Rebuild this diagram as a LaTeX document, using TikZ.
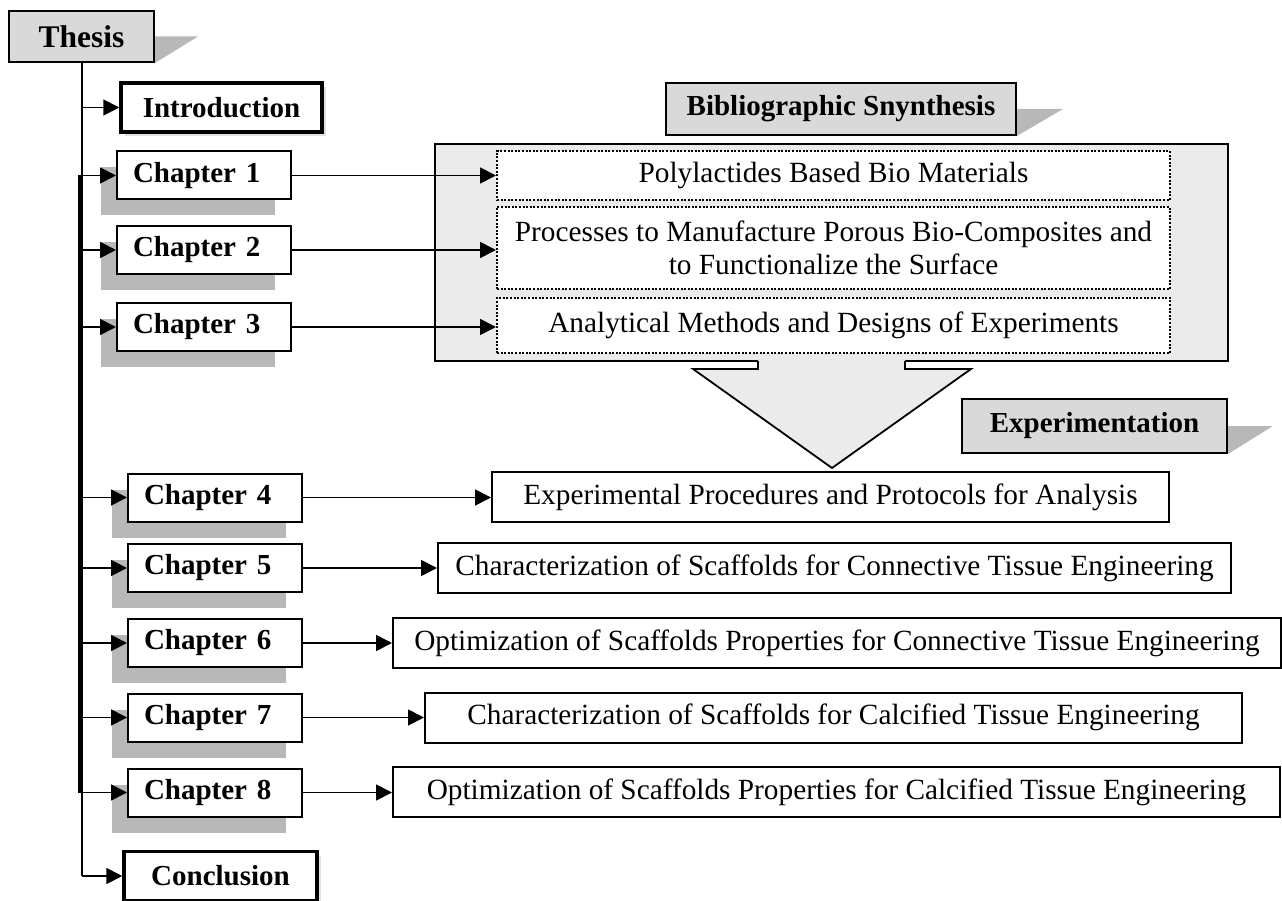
\documentclass[tikz,border=0pt]{standalone}
\usepackage{fontspec}
\setmainfont{Liberation Serif}
\usetikzlibrary{arrows.meta,shadows}

\begin{document}
\begin{tikzpicture}[x=1pt,y=-1pt,
  bigfont/.style={font=\fontsize{29}{33}\selectfont\bfseries},
  txtfont/.style={font=\fontsize{29.3}{33.5}\selectfont},
  heading/.style={draw,line width=2pt,fill=black!15,bigfont,inner sep=0pt},
  chap/.style={draw,line width=2pt,fill=white,bigfont,text width=142pt,align=left,
    inner xsep=16pt,inner ysep=0pt,minimum height=48pt,
    drop shadow={shadow xshift=-16pt,shadow yshift=-16pt,fill=black!28,opacity=1}},
  endbox/.style={draw,line width=3.5pt,fill=white,bigfont,inner sep=0pt,minimum height=49pt,
    drop shadow={shadow xshift=4pt,shadow yshift=-4pt,fill=black!12,opacity=1}},
  topic/.style={draw,line width=2pt,dash pattern=on 2pt off 1.6pt,fill=white,txtfont,
    align=center,minimum width=673pt,inner sep=0pt},
  work/.style={draw,line width=2pt,fill=white,txtfont,inner sep=0pt,minimum height=50pt},
  arr/.style={-{Triangle[length=16pt,width=16pt]},line width=1.8pt},
  trunk/.style={line width=2pt}]
\useasboundingbox (0,0) rectangle (1282,901);

% bibliographic part
\node[draw,line width=2pt,fill=black!8,minimum width=793pt,minimum height=217pt] (synth) at (831.5,252.5) {};
\fill[black!8] (758,357) -- (758,369) -- (693,369) -- (832,468) -- (971,369) -- (905,369) -- (905,357) -- cycle;
\draw[line width=1.8pt] (758,361) -- (758,369) -- (693,369) -- (832,468) -- (971,369) -- (905,369) -- (905,361);
\node[topic,minimum height=49pt] (poly) at (833.5,175.5) {Polylactides Based Bio Materials};
\node[topic,minimum height=82pt] (proc) at (833.5,248) {Processes to Manufacture Porous Bio-Composites and\\to Functionalize the Surface};
\node[topic,minimum height=55pt] (anal) at (833.5,325.5) {Analytical Methods and Designs of Experiments};

% headings
\node[heading,minimum width=145pt,minimum height=51pt,font=\fontsize{31.5}{35}\selectfont\bfseries] (thesis) at (81.5,36.5) {Thesis};
\node[heading,minimum width=350pt,minimum height=52pt] (bib) at (841,109) {Bibliographic Snynthesis};
\node[heading,minimum width=265pt,minimum height=54pt] (exper) at (1094.5,426) {Experimentation};
\fill[black!28] (thesis.east) -- ++(43,0) -- (thesis.south east) -- cycle;
\fill[black!28] (bib.east) -- ++(46,0) -- (bib.south east) -- cycle;
\fill[black!28] (exper.east) -- ++(45,0) -- (exper.south east) -- cycle;

% chapters
\node[endbox,minimum width=201pt] (intro) at (221.5,107.5) {Introduction};
\node[chap] (ch1) at (204,175.5) {Chapter 1};
\node[chap] (ch2) at (204,250) {Chapter 2};
\node[chap] (ch3) at (204,327) {Chapter 3};
\node[chap] (ch4) at (215,497.5) {Chapter 4};
\node[chap] (ch5) at (215,568) {Chapter 5};
\node[chap] (ch6) at (215,643) {Chapter 6};
\node[chap] (ch7) at (215,717.5) {Chapter 7};
\node[chap] (ch8) at (215,792.5) {Chapter 8};
\node[endbox,minimum width=193pt] (concl) at (220.5,876) {Conclusion};

% experimental work
\node[work,minimum width=677pt] (e4) at (830.5,497) {Experimental Procedures and Protocols for Analysis};
\node[work,minimum width=793pt] (e5) at (834.5,568) {Characterization of Scaffolds for Connective Tissue Engineering};
\node[work,minimum width=888pt] (e6) at (837,643) {Optimization of Scaffolds Properties for Connective Tissue Engineering};
\node[work,minimum width=817pt] (e7) at (833.5,717.5) {Characterization of Scaffolds for Calcified Tissue Engineering};
\node[work,minimum width=887pt] (e8) at (836.5,792) {Optimization of Scaffolds Properties for Calcified Tissue Engineering};

% tree
\draw[trunk] (thesis.south) -- (thesis.south |- concl.west);
\draw[trunk,line width=4pt] ([xshift=-1.2pt]thesis.south |- ch1.west) -- ([xshift=-1.2pt]thesis.south |- ch8.west);
\foreach \n in {intro,ch1,ch2,ch3,ch4,ch5,ch6,ch7,ch8,concl}
  \draw[arr] (thesis.south |- \n.west) -- (\n.west);

% links
\draw[arr] (ch1.east) -- (ch1.east -| poly.west);
\draw[arr] (ch2.east) -- (ch2.east -| proc.west);
\draw[arr] (ch3.east) -- (ch3.east -| anal.west);
\foreach \i in {4,...,8}
  \draw[arr] (ch\i.east) -- (ch\i.east -| e\i.west);
\end{tikzpicture}
\end{document}
